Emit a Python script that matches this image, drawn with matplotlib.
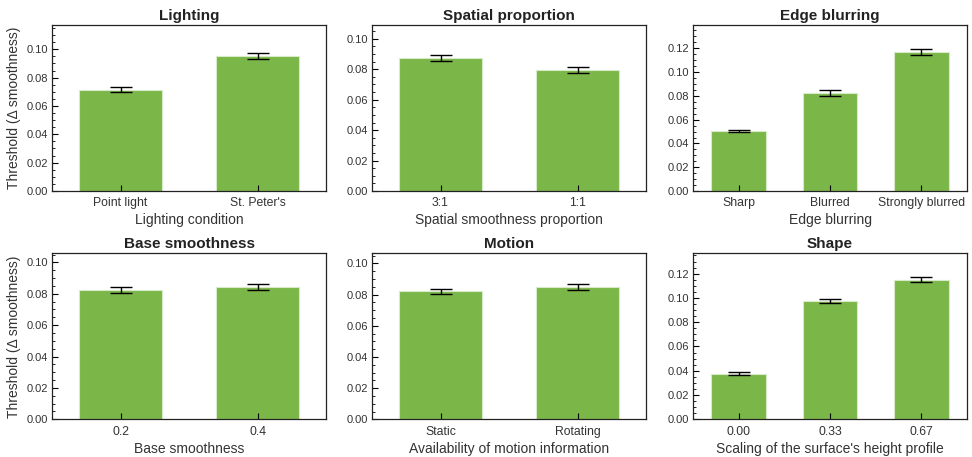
import numpy as np
import matplotlib
matplotlib.use('Agg')
import matplotlib.pyplot as plt
from matplotlib.ticker import AutoMinorLocator, MultipleLocator

plt.rcParams['font.family'] = ['Liberation Sans', 'DejaVu Sans']

# one list per panel: tick labels, mean thresholds, error (half-length)
light_labels = ['Point light', "St. Peter's"]
light_vals = [0.0716, 0.0951]
light_err = [0.0016, 0.0019]

spatial_labels = ['3:1', '1:1']
spatial_vals = [0.0873, 0.0796]
spatial_err = [0.0018, 0.0018]

edge_labels = ['Sharp', 'Blurred', 'Strongly blurred']
edge_vals = [0.0505, 0.0824, 0.1169]
edge_err = [0.0010, 0.0022, 0.0025]

base_labels = ['0.2', '0.4']
base_vals = [0.0824, 0.0841]
base_err = [0.0017, 0.0019]

motion_labels = ['Static', 'Rotating']
motion_vals = [0.0821, 0.0848]
motion_err = [0.0017, 0.0020]

shape_labels = ['0.00', '0.33', '0.67']
shape_vals = [0.0376, 0.0975, 0.1150]
shape_err = [0.0014, 0.0019, 0.0019]

panels = [
    ('Lighting', 'Lighting condition', light_labels, light_vals, light_err, 0.117),
    ('Spatial proportion', 'Spatial smoothness proportion', spatial_labels, spatial_vals, spatial_err, 0.109),
    ('Edge blurring', 'Edge blurring', edge_labels, edge_vals, edge_err, 0.1395),
    ('Base smoothness', 'Base smoothness', base_labels, base_vals, base_err, 0.1057),
    ('Motion', 'Availability of motion information', motion_labels, motion_vals, motion_err, 0.1064),
    ('Shape', "Scaling of the surface's height profile", shape_labels, shape_vals, shape_err, 0.1367),
]

green = '#7ab648'
txt = '#333333'

fig = plt.figure(figsize=(9.72, 4.57), dpi=100)
lefts = [0.0535, 0.3827, 0.713]
bottoms = [0.582, 0.0825]
w, h = 0.282, 0.363

for i, (title, xlab, labels, vals, err, ytop) in enumerate(panels):
    r, c = divmod(i, 3)
    ax = fig.add_axes([lefts[c], bottoms[r], w, h])
    x = np.arange(len(labels))
    ax.bar(x, vals, width=0.6, color=green, edgecolor='#d8ebc8', linewidth=0.8)
    ax.errorbar(x, vals, yerr=err, fmt='none', ecolor='black', elinewidth=1,
                capsize=8, capthick=1)
    ax.set_xlim(-0.5, len(labels) - 0.5)
    ax.set_ylim(0, ytop)
    ax.set_xticks(x)
    ax.set_xticklabels(labels, fontsize=8.8, color=txt)
    ax.yaxis.set_major_locator(MultipleLocator(0.02))
    ax.yaxis.set_major_formatter(plt.FuncFormatter(lambda v, p: '%.2f' % v))
    ax.yaxis.set_minor_locator(AutoMinorLocator(4))
    ax.tick_params(axis='y', which='major', direction='in', length=4, width=0.8,
                   labelsize=8, labelcolor=txt, pad=3)
    ax.tick_params(axis='y', which='minor', direction='in', length=2, width=0.6)
    ax.tick_params(axis='x', direction='in', length=4, width=0.8, pad=4.5)
    for s in ax.spines.values():
        s.set_color('#222222')
        s.set_linewidth(0.9)
    ax.set_title(title, fontsize=11, fontweight='bold', color='#222222', pad=4)
    ax.set_xlabel(xlab, fontsize=10, color=txt, labelpad=3)
    if c == 0:
        ax.set_ylabel('Threshold (Δ smoothness)', fontsize=10, color=txt, labelpad=4)

fig.savefig('out.png', dpi=100)
